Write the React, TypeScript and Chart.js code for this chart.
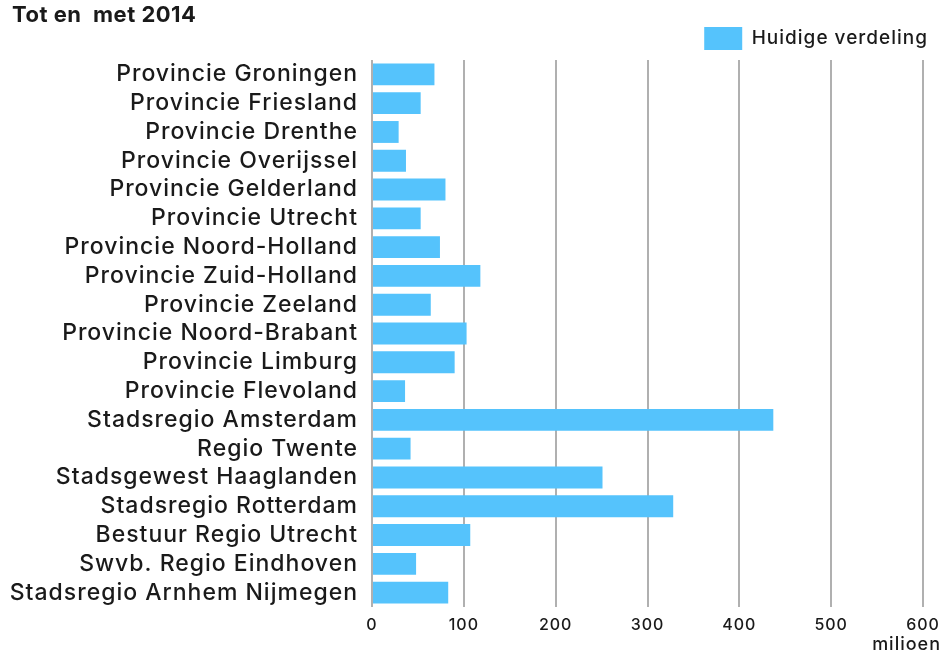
import React, { useEffect, useRef } from "react";
import { Chart, registerables } from "chart.js";

Chart.register(...registerables);

const categories: string[] = [
  "Provincie Groningen",
  "Provincie Friesland",
  "Provincie Drenthe",
  "Provincie Overijssel",
  "Provincie Gelderland",
  "Provincie Utrecht",
  "Provincie Noord-Holland",
  "Provincie Zuid-Holland",
  "Provincie Zeeland",
  "Provincie Noord-Brabant",
  "Provincie Limburg",
  "Provincie Flevoland",
  "Stadsregio Amsterdam",
  "Regio Twente",
  "Stadsgewest Haaglanden",
  "Stadsregio Rotterdam",
  "Bestuur Regio Utrecht",
  "Swvb. Regio Eindhoven",
  "Stadsregio Arnhem Nijmegen",
];

const values: number[] = [68, 53, 29, 37, 80, 53, 74, 118, 64, 103, 90, 36, 437, 42, 251, 328, 107, 48, 83];

const seriesLabel = "Huidige verdeling";
const chartTitle = "Tot en  met 2014";
const unitLabel = "milioen";
const xMin = 0;
const xMax = 600;
const xStep = 100;

const FONT = 'Inter, "Liberation Sans", Arial, sans-serif';
const BAR_COLOR = "#55c3fc";
const TEXT_COLOR = "#1a1a1a";
const SPACING = "1px";

const spacingPlugin = {
  id: "letterSpacing",
  beforeLayout(chart: any) {
    chart.ctx.letterSpacing = SPACING;
  },
  beforeDraw(chart: any) {
    chart.ctx.letterSpacing = SPACING;
  },
};

const textPlugin = {
  id: "extraText",
  afterDraw(chart: any) {
    const ctx = chart.ctx;
    ctx.save();
    ctx.fillStyle = TEXT_COLOR;
    ctx.textBaseline = "alphabetic";
    ctx.textAlign = "left";
    ctx.letterSpacing = "0.5px";
    ctx.font = `bold 22px ${FONT}`;
    ctx.fillText(chartTitle, 12, 22);
    ctx.letterSpacing = SPACING;
    ctx.font = `500 18px ${FONT}`;
    ctx.textAlign = "right";
    ctx.fillText(unitLabel, 941, 650);
    ctx.restore();
  },
};

export default function App() {
  const ref = useRef<HTMLCanvasElement | null>(null);

  useEffect(() => {
    document.body.style.margin = "0";
    if (!ref.current) return;
    const chart = new Chart(ref.current, {
      type: "bar",
      data: {
        labels: categories,
        datasets: [
          {
            label: seriesLabel,
            data: values,
            backgroundColor: BAR_COLOR,
            borderWidth: 0,
            barPercentage: 0.76,
            categoryPercentage: 1,
          },
        ],
      },
      options: {
        indexAxis: "y",
        responsive: false,
        animation: false,
        devicePixelRatio: 1,
        layout: { padding: { top: 5, right: 6, left: 0, bottom: 0 } },
        plugins: {
          title: { display: false },
          tooltip: { enabled: false },
          legend: {
            display: true,
            position: "top",
            align: "end",
            labels: {
              boxWidth: 38,
              boxHeight: 23,
              padding: 10,
              color: TEXT_COLOR,
              font: { family: FONT, size: 19, weight: 500 },
            },
          },
        },
        scales: {
          x: {
            type: "linear",
            min: xMin,
            max: xMax,
            ticks: {
              stepSize: xStep,
              color: TEXT_COLOR,
              padding: 9,
              font: { family: FONT, size: 16, weight: 500 },
            },
            grid: {
              display: true,
              color: "#b0b0b0",
              lineWidth: 2,
              drawTicks: false,
            },
            border: { display: false },
            afterFit: (s: any) => {
              s.height = 46;
              s.paddingRight = 21;
              s.paddingLeft = 0;
            },
          },
          y: {
            type: "category",
            ticks: {
              autoSkip: false,
              color: TEXT_COLOR,
              padding: 14,
              font: { family: FONT, size: 23, weight: 500 },
            },
            grid: { display: false, drawTicks: false },
            border: { display: false },
            afterFit: (s: any) => {
              s.width = 372;
              s.paddingTop = 60;
              s.paddingBottom = 0;
            },
          },
        },
      },
      plugins: [spacingPlugin, textPlugin],
    });
    return () => chart.destroy();
  }, []);

  return (
    <div style={{ width: 944, height: 653, background: "#ffffff" }}>
      <canvas ref={ref} width={944} height={653} style={{ display: "block", width: 944, height: 653 }} />
    </div>
  );
}
